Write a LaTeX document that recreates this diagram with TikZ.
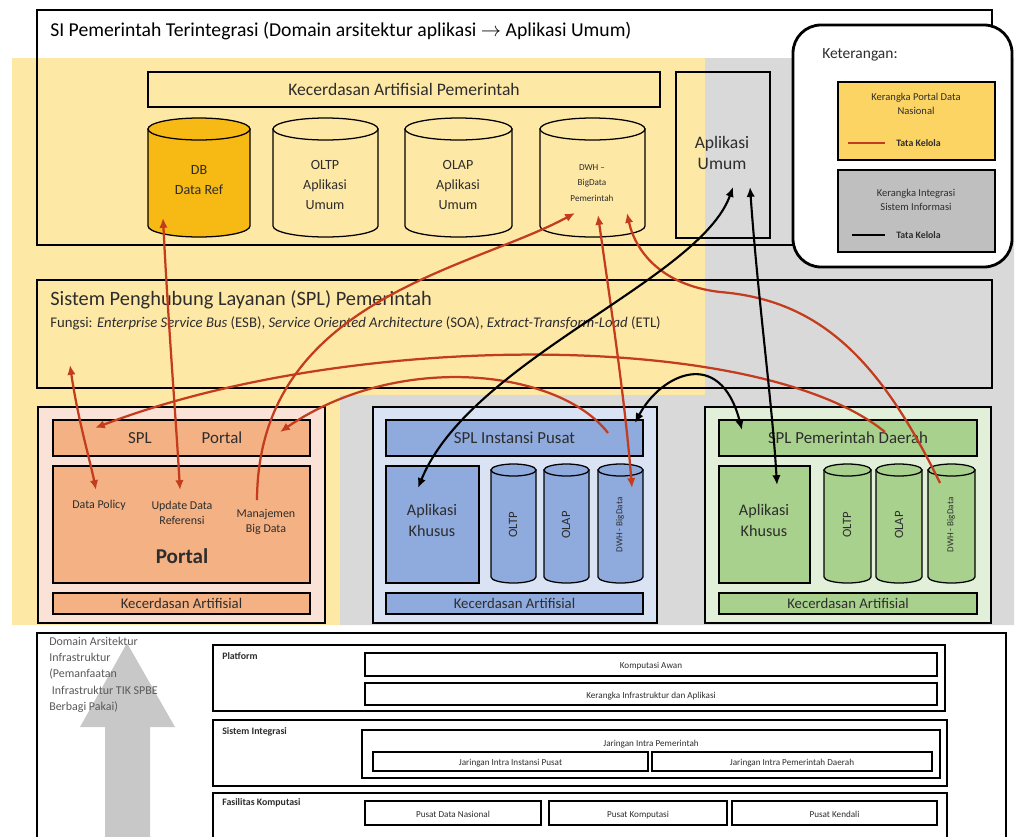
\documentclass[tikz,border=0pt]{standalone}
\usepackage{fontspec}
\setmainfont{Carlito}
\usetikzlibrary{arrows.meta,fit}
\definecolor{bgyel}{RGB}{254,232,166}
\definecolor{bggray}{RGB}{217,217,217}
\definecolor{dbfill}{RGB}{247,186,20}
\definecolor{legyel}{RGB}{252,212,100}
\definecolor{leggray}{RGB}{191,191,191}
\definecolor{portalout}{RGB}{250,226,214}
\definecolor{portalin}{RGB}{244,177,131}
\definecolor{ipout}{RGB}{218,227,243}
\definecolor{ipin}{RGB}{143,170,220}
\definecolor{pdout}{RGB}{226,240,217}
\definecolor{pdin}{RGB}{169,209,142}
\definecolor{redarr}{RGB}{196,60,30}
\definecolor{txt}{RGB}{45,45,45}
\definecolor{arrgray}{RGB}{200,200,200}
\newcommand\fsz[2]{\fontsize{#1}{#2}\selectfont}
\newcommand\mycyl[6]{%
 \pgfmathsetmacro\cxx{(#1+#3)/2}%
 \pgfmathsetmacro\aa{(#3-#1)/2}%
 \pgfmathsetmacro\kk{0.5523*#5}%
 \pgfmathsetmacro\ka{0.5523*\aa}%
 \pgfmathsetmacro\yb{#4+#5}%
 \pgfmathsetmacro\ybk{#4+\kk}%
 \pgfmathsetmacro\xl{\cxx-\ka}\pgfmathsetmacro\xr{\cxx+\ka}%
 \filldraw[fill=#6, draw=black, line width=0.9pt] (#1,#2) -- (#1,#4) .. controls (#1,\ybk) and (\xl,\yb) .. (\cxx,\yb) .. controls (\xr,\yb) and (#3,\ybk) .. (#3,#4) -- (#3,#2) -- cycle;
 \pgfmathsetmacro\ar{\aa*0.25}\pgfmathsetmacro\br{#5*0.25}%
 \filldraw[fill=#6, draw=black, line width=0.9pt] (\cxx,#2) ellipse [x radius=\ar mm, y radius=\br mm];
}
\begin{document}
\begin{tikzpicture}[x=0.25mm,y=-0.25mm,
  bx/.style={draw=black, line width=0.9pt, inner sep=0pt},
  lbl/.style={text=txt, align=center, inner sep=0pt},
  ilbl/.style={text=txt, inner sep=0pt, font=\fsz{6.5}{8}, text height=1.6ex, text depth=0.4ex},
  ra/.style={draw=redarr, line width=1.6pt},
  ba/.style={draw=black, line width=1.5pt},
  >={Latex[length=7pt,width=6pt]}]
\useasboundingbox (0,0) rectangle (1018,836);
\clip (0,0) rectangle (1018,836);
\fill[white] (0,0) rectangle (1018,836);
% backgrounds
\fill[bgyel] (12,58) -- (705,58) -- (705,395) -- (340,395) -- (340,625) -- (12,625) -- cycle;
\fill[bggray] (705,58) -- (1014,58) -- (1014,625) -- (340,625) -- (340,395) -- (705,395) -- cycle;
% top box
\node[bx, fit={(37,10)(992,245)}] (topbox) {};
\node[lbl, anchor=west, font=\fsz{14}{16}, text=black] (title) at (50,31) {SI Pemerintah Terintegrasi (Domain arsitektur aplikasi $\rightarrow$ Aplikasi Umum)};
\node[bx, fit={(148,72)(660,107)}] (kap) {};
\node[lbl, font=\fsz{12.5}{14}] (kapt) at (kap.center) {Kecerdasan Artifisial Pemerintah};
\node[bx, fit={(676,72)(770,238)}] (apu) {};
\node[lbl, font=\fsz{12.5}{15}] (aput) at (722,153) {Aplikasi\\Umum};
\mycyl{148}{129}{250}{226}{11}{dbfill}
\mycyl{273}{129}{378}{226}{11}{bgyel}
\mycyl{405}{129}{512}{226}{11}{bgyel}
\mycyl{540}{129}{645}{226}{11}{bgyel}
\node[lbl, font=\fsz{10}{14}] (dbref) at (199,180) {DB\\Data Ref};
\node[lbl, font=\fsz{10}{14}] (oltpu) at (325,185) {OLTP\\Aplikasi\\Umum};
\node[lbl, font=\fsz{10}{14}] (olapu) at (458,185) {OLAP\\Aplikasi\\Umum};
\node[lbl, font=\fsz{6.5}{11}] (dwhp) at (592,183) {DWH --\\BigData\\Pemerintah};
% SPL box
\node[bx, fit={(37,280)(992,388)}] (splbox) {};
\node[lbl, anchor=west, font=\fsz{14.5}{16}] (spltitle) at (50,300) {Sistem Penghubung Layanan (SPL) Pemerintah};
\node[lbl, anchor=west, font=\fsz{10.5}{12}] (splfun) at (50,323) {Fungsi: \textit{Enterprise Service Bus} (ESB), \textit{Service Oriented Architecture} (SOA), \textit{Extract-Transform-Load} (ETL)};
% Portal group
\node[bx, fill=portalout, fit={(38,407)(325,623)}] (pgrp) {};
\node[bx, fill=portalin, fit={(53,420)(310,456)}] (splp) {};
\node[lbl, font=\fsz{12}{14}] (splpa) at (140,438) {SPL};
\node[lbl, font=\fsz{12}{14}] (splpb) at (222,438) {Portal};
\node[bx, fill=portalin, fit={(53,466)(310,583)}] (portal) {};
\node[lbl, font=\fsz{8.5}{11}] (dpol) at (99,505) {Data Policy};
\node[lbl, font=\fsz{8.5}{11}] (upd) at (182,513) {Update Data\\Referensi};
\node[lbl, font=\fsz{8.5}{11}] (mbd) at (266,522) {Manajemen\\Big Data};
\node[lbl, font=\bfseries\fsz{15}{17}] (portalt) at (182,556) {Portal};
\node[bx, fill=portalin, fit={(53,593)(310,614)}] (kaP) {};
\node[lbl, font=\fsz{10.5}{12}] (kaPt) at (kaP.center) {Kecerdasan Artifisial};
% Instansi group
\node[bx, fill=ipout, fit={(373,407)(657,623)}] (igrp) {};
\node[bx, fill=ipin, fit={(386,420)(643,456)}] (splip) {};
\node[lbl, font=\fsz{12}{14}] (splipt) at (splip.center) {SPL Instansi Pusat};
\node[bx, fill=ipin, fit={(386,466)(479,583)}] (akip) {};
\node[lbl, font=\fsz{11.5}{15}] (akipt) at (432,520) {Aplikasi\\Khusus};
\mycyl{491}{470}{536}{577}{6}{ipin}
\mycyl{544}{470}{589}{577}{6}{ipin}
\mycyl{598}{470}{643}{577}{6}{ipin}
\node[lbl, rotate=90, font=\fsz{9}{11}] (ipoltp) at (513,525) {OLTP};
\node[lbl, rotate=90, font=\fsz{9}{11}] (ipolap) at (566,525) {OLAP};
\node[lbl, rotate=90, font=\fsz{6.5}{8}] (ipdwh) at (620,525) {DWH - BigData};
\node[bx, fill=ipin, fit={(386,593)(643,614)}] (kaI) {};
\node[lbl, font=\fsz{10.5}{12}] (kaIt) at (kaI.center) {Kecerdasan Artifisial};
% Pemda group
\node[bx, fill=pdout, fit={(705,407)(991,623)}] (dgrp) {};
\node[bx, fill=pdin, fit={(719,420)(977,456)}] (splpd) {};
\node[lbl, font=\fsz{12}{14}] (splpdt) at (splpd.center) {SPL Pemerintah Daerah};
\node[bx, fill=pdin, fit={(719,466)(810,583)}] (akpd) {};
\node[lbl, font=\fsz{11.5}{15}] (akpdt) at (764,520) {Aplikasi\\Khusus};
\mycyl{824}{470}{871}{577}{6}{pdin}
\mycyl{876}{470}{922}{577}{6}{pdin}
\mycyl{928}{470}{975}{577}{6}{pdin}
\node[lbl, rotate=90, font=\fsz{9}{11}] (pdoltp) at (847,525) {OLTP};
\node[lbl, rotate=90, font=\fsz{9}{11}] (pdolap) at (899,525) {OLAP};
\node[lbl, rotate=90, font=\fsz{6.5}{8}] (pddwh) at (951,525) {DWH - BigData};
\node[bx, fill=pdin, fit={(719,593)(977,614)}] (kaD) {};
\node[lbl, font=\fsz{10.5}{12}] (kaDt) at (kaD.center) {Kecerdasan Artifisial};
% Infrastructure
\node[bx, fill=white, fit={(37,633)(1006,850)}] (infra) {};
\fill[arrgray] (105,850) -- (105,727) -- (80,727) -- (127,643) -- (175,727) -- (150,727) -- (150,850) -- cycle;
\node[lbl, anchor=north west, align=left, font=\fsz{8.5}{11.5}, text=black!65] (infratxt) at (49,637) {Domain Arsitektur\\Infrastruktur\\(Pemanfaatan\\\ Infrastruktur TIK SPBE\\Berbagi Pakai)};
\node[bx, fit={(213,645)(945,711)}] (plat) {};
\node[lbl, anchor=west, font=\bfseries\fsz{7}{8}] (platt) at (222,656) {Platform};
\node[bx, fit={(365,653)(937,676)}] (kawan) {};
\node[ilbl] (kawant) at (kawan.center) {Komputasi Awan};
\node[bx, fit={(365,683)(937,705)}] (kia) {};
\node[ilbl] (kiat) at (kia.center) {Kerangka Infrastruktur dan Aplikasi};
\node[bx, fit={(213,720)(947,786)}] (sint) {};
\node[lbl, anchor=west, font=\bfseries\fsz{7}{8}] (sintt) at (222,732) {Sistem Integrasi};
\node[bx, fit={(362,730)(940,778)}] (jip) {};
\node[ilbl] (jipt) at (651,742) {Jaringan Intra Pemerintah};
\node[bx, fit={(373,752)(648,771)}] (jiip) {};
\node[ilbl] (jiipt) at (jiip.center) {Jaringan Intra Instansi Pusat};
\node[bx, fit={(652,752)(932,771)}] (jipd) {};
\node[ilbl] (jipdt) at (jipd.center) {Jaringan Intra Pemerintah Daerah};
\node[bx, fit={(213,793)(947,850)}] (fk) {};
\node[lbl, anchor=west, font=\bfseries\fsz{7}{8}] (fkt) at (222,803) {Fasilitas Komputasi};
\node[bx, fit={(365,801)(541,825)}] (pdn) {};
\node[ilbl] (pdnt) at (pdn.center) {Pusat Data Nasional};
\node[bx, fit={(549,801)(727,825)}] (pkom) {};
\node[ilbl] (pkomt) at (pkom.center) {Pusat Komputasi};
\node[bx, fit={(732,801)(937,825)}] (pken) {};
\node[ilbl] (pkent) at (pken.center) {Pusat Kendali};
% Legend
\node[draw=black, line width=2pt, fill=white, rounded corners=7mm, inner sep=0pt, fit={(793,25)(1012,267)}] (leg) {};
\node[lbl, anchor=west, font=\fsz{11}{13}] (legt) at (822,55) {Keterangan:};
\node[bx, fill=legyel, fit={(838,82)(995,160)}] (leg1) {};
\node[lbl, font=\fsz{7.5}{10}] (leg1t) at (916,104) {Kerangka Portal Data\\Nasional};
\coordinate (l1a) at (848,143); \coordinate (l1b) at (885,143);
\draw[draw=redarr, line width=2pt] (l1a) -- (l1b);
\node[lbl, anchor=west, font=\bfseries\fsz{7}{9}] (leg1k) at (896,143) {Tata Kelola};
\node[bx, fill=leggray, fit={(838,170)(995,252)}] (leg2) {};
\node[lbl, font=\fsz{7.5}{10}] (leg2t) at (916,200) {Kerangka Integrasi\\Sistem Informasi};
\coordinate (l2a) at (852,235); \coordinate (l2b) at (885,235);
\draw[draw=black, line width=2pt] (l2a) -- (l2b);
\node[lbl, anchor=west, font=\bfseries\fsz{7}{9}] (leg2k) at (896,235) {Tata Kelola};
% connector end points
\coordinate (dbE) at (163,218);
\coordinate (updE) at (180,490);
\coordinate (splL) at (70,365);
\coordinate (dpE) at (96,490);
\coordinate (mbS) at (257,500);
\coordinate (dwhA) at (575,213);
\coordinate (dwhB) at (598,215);
\coordinate (dwhC) at (627,213);
\coordinate (ipR) at (608,433);
\coordinate (spPR) at (280,432);
\coordinate (spPL) at (95,428);
\coordinate (pdS) at (885,432);
\coordinate (pdDWH) at (940,483);
\coordinate (ipDWH) at (632,488);
\coordinate (auA) at (733,187);
\coordinate (auB) at (750,187);
\coordinate (akIP) at (418,488);
\coordinate (akPD) at (777,485);
\coordinate (ipS) at (635,423);
\coordinate (pdL) at (742,430);
% red connectors
\draw[ra,<->] (dbE) .. controls (168,320) and (176,420) .. (updE);
\draw[ra,<->] (splL) .. controls (78,420) and (90,460) .. (dpE);
\draw[ra,->] (mbS) .. controls (258,300) and (470,270) .. (dwhA);
\draw[ra,->] (ipR) .. controls (560,370) and (400,350) .. (spPR);
\draw[ra,->] (pdS) .. controls (760,330) and (350,330) .. (spPL);
\draw[ra,->] (pdDWH) .. controls (880,360) and (820,300) .. (720,292) .. controls (660,285) and (635,250) .. (dwhC);
\draw[ra,<->] (dwhB) .. controls (610,300) and (625,400) .. (ipDWH);
% black connectors
\draw[ba,<->] (auA) .. controls (700,280) and (470,360) .. (akIP);
\draw[ba,<->] (auB) .. controls (758,300) and (772,400) .. (akPD);
\draw[ba,<->] (ipS) .. controls (660,375) and (720,345) .. (pdL);
\end{tikzpicture}
\end{document}
